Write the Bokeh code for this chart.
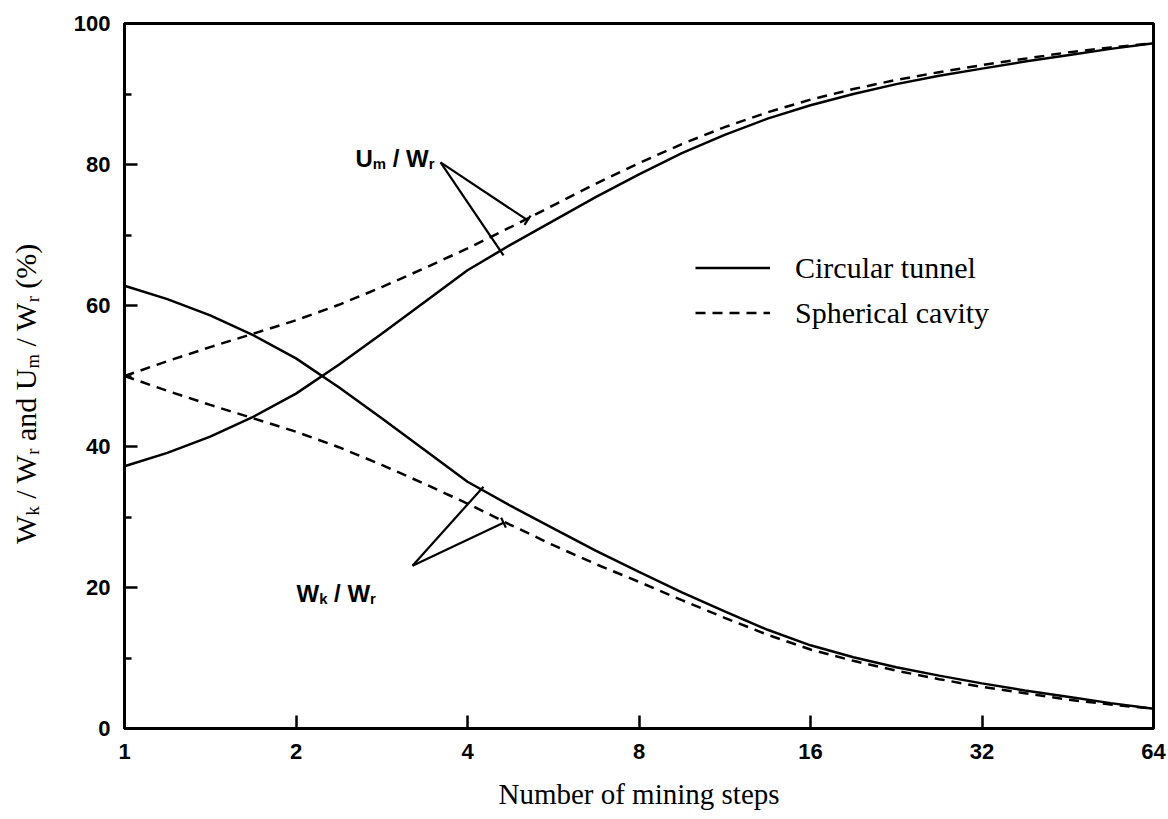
import math

from bokeh.plotting import figure
from bokeh.layouts import row
from bokeh.models import FixedTicker, PrintfTickFormatter, Label, Legend, LegendItem
from bokeh.embed import file_html
from bokeh.resources import INLINE

# Number of mining steps, quarter-octave spacing on the log2 axis
steps = [1, 1.189, 1.414, 1.682, 2, 2.378, 2.828, 3.364, 4, 4.757, 5.657, 6.727, 8,
         9.514, 11.31, 13.45, 16, 19.03, 22.63, 26.91, 32, 38.05, 45.25, 53.82, 64]

# Circular tunnel
tunnel_wk = [62.8, 60.9, 58.6, 55.8, 52.5, 48.4, 44.0, 39.5, 35.0, 31.6, 28.4, 25.2, 22.2,
             19.3, 16.6, 14.0, 11.8, 10.1, 8.7, 7.5, 6.4, 5.4, 4.5, 3.6, 2.8]
tunnel_um = [37.2, 39.1, 41.4, 44.2, 47.5, 51.6, 56.0, 60.5, 65.0, 68.6, 72.0, 75.4, 78.6,
             81.6, 84.2, 86.5, 88.4, 90.0, 91.4, 92.6, 93.6, 94.6, 95.5, 96.4, 97.2]

# Spherical cavity
sphere_wk = [50.0, 47.9, 45.9, 44.0, 42.1, 39.9, 37.4, 34.7, 31.9, 28.9, 26.0, 23.3, 20.8,
             18.2, 15.7, 13.3, 11.2, 9.6, 8.2, 7.0, 5.9, 5.0, 4.1, 3.4, 2.8]
sphere_um = [50.0, 52.1, 54.1, 56.0, 57.9, 60.1, 62.6, 65.3, 68.1, 71.1, 74.2, 77.3, 80.2,
             82.9, 85.3, 87.4, 89.2, 90.7, 92.0, 93.1, 94.1, 95.0, 95.9, 96.6, 97.2]

x_ticks = [1, 2, 4, 8, 16, 32, 64]
y_ticks = [0, 20, 40, 60, 80, 100]
y_minor = [10, 30, 50, 70, 90]

# Leader lines from the curve labels to the curves
um_leader_x0 = [3.587, 3.587]
um_leader_y0 = [80.3, 80.3]
um_leader_x1 = [4.627, 5.098]
um_leader_y1 = [67.1, 72.1]
wk_leader_x0 = [3.203, 3.203]
wk_leader_y0 = [23.1, 23.1]
wk_leader_x1 = [4.267, 4.627]
wk_leader_y1 = [34.3, 29.2]
# short cross-bars closing the leaders that end on the dashed curves
bar_x = [5.098, 4.627]
bar_y = [72.1, 29.2]
bar_angle = [math.radians(56.3), math.radians(115.3)]
um_text_pos = (2.544, 80.85)
wk_text_pos = (2.004, 19.15)

SERIF = "Liberation Serif"
SANS = "Liberation Sans"

# advance widths (per 1000 em) for the run-of-text helper
SERIF_W = {"W": 944, "k": 500, " ": 250, "/": 278, "r": 333, "a": 444, "n": 500,
           "d": 500, "U": 722, "m": 778, "(": 333, "%": 833, ")": 333}
SANS_B_W = {"U": 722, "m": 889, " ": 278, "/": 278, "W": 944, "k": 556, "r": 389}


def text_width(s, table, size):
    return sum(table[c] for c in s) / 1000.0 * size


def add_rich(fig, pieces, x, y, angle, font, style, size, table, dx=0.0, dy=0.0):
    """Place a string with subscripts as consecutive labels along one baseline."""
    adv = 0.0
    ca, sa = math.cos(angle), math.sin(angle)
    for txt, sub in pieces:
        fs = size * 0.62 if sub else size
        drop = size * 0.22 if sub else 0.0
        lead = len(txt) - len(txt.lstrip(" "))
        adv += text_width(" " * lead, table, fs)
        body = txt.strip(" ")
        ox = dx + adv * ca + drop * sa
        oy = dy + adv * sa - drop * ca
        fig.add_layout(Label(x=x, y=y, x_offset=ox, y_offset=oy, text=body, angle=angle,
                             text_font=font, text_font_style=style,
                             text_font_size=f"{fs:.1f}px", text_align="left",
                             text_baseline="alphabetic", text_color="black"))
        adv += text_width(txt.lstrip(" "), table, fs)


p = figure(width=1099, height=819, x_axis_type="log", x_range=(1, 64), y_range=(0, 100),
           output_backend="svg", toolbar_location=None, title=None,
           min_border_left=55, min_border_right=15, min_border_top=23, min_border_bottom=91)
p.grid.visible = False
p.background_fill_color = "white"
p.border_fill_color = "white"
p.outline_line_color = "black"
p.outline_line_width = 3

xa = p.xaxis[0]
xa.ticker = FixedTicker(ticks=x_ticks, minor_ticks=[])
xa.formatter = PrintfTickFormatter(format="%d")
ya = p.yaxis[0]
ya.ticker = FixedTicker(ticks=y_ticks, minor_ticks=y_minor)

for ax in (xa, ya):
    ax.axis_line_width = 3
    ax.axis_line_color = "black"
    ax.major_tick_in = 13
    ax.major_tick_out = 0
    ax.minor_tick_in = 7
    ax.minor_tick_out = 0
    ax.major_tick_line_width = 2.5
    ax.minor_tick_line_width = 2.5
    ax.major_label_text_font = SANS
    ax.major_label_text_font_style = "bold"
    ax.major_label_text_font_size = "22px"
    ax.major_label_text_color = "black"
xa.major_label_standoff = 15
ya.major_label_standoff = 14

xa.axis_label = "Number of mining steps"
xa.axis_label_text_font = SERIF
xa.axis_label_text_font_style = "normal"
xa.axis_label_text_font_size = "29px"
xa.axis_label_text_color = "black"
xa.axis_label_standoff = 16

line_w = 2.5
dash = "10 7"
r_t_wk = p.line(steps, tunnel_wk, line_color="black", line_width=line_w)
r_t_um = p.line(steps, tunnel_um, line_color="black", line_width=line_w)
r_s_wk = p.line(steps, sphere_wk, line_color="black", line_width=line_w, line_dash=dash)
r_s_um = p.line(steps, sphere_um, line_color="black", line_width=line_w, line_dash=dash)

p.segment(um_leader_x0, um_leader_y0, um_leader_x1, um_leader_y1, line_color="black", line_width=2.2)
p.segment(wk_leader_x0, wk_leader_y0, wk_leader_x1, wk_leader_y1, line_color="black", line_width=2.2)
p.scatter(bar_x, bar_y, marker="dash", size=11, angle=bar_angle, line_color="black", line_width=2.2)

legend = Legend(items=[LegendItem(label="Circular tunnel", renderers=[r_t_wk]),
                       LegendItem(label="Spherical cavity", renderers=[r_s_wk])],
                location=(571, 398), border_line_color=None, background_fill_alpha=0,
                glyph_width=75, glyph_height=35, label_height=35, spacing=10,
                padding=0, margin=0, label_standoff=25,
                label_text_font=SERIF, label_text_font_size="30px", label_text_color="black")
p.add_layout(legend)

# curve labels
add_rich(p, [("U", 0), ("m", 1), (" / W", 0), ("r", 1)], um_text_pos[0], um_text_pos[1],
         0.0, SANS, "bold", 24, SANS_B_W)
add_rich(p, [("W", 0), ("k", 1), (" / W", 0), ("r", 1)], wk_text_pos[0], wk_text_pos[1],
         0.0, SANS, "bold", 24, SANS_B_W)

# strip on the left carrying the vertical axis title (pixel-unit ranges, no axes)
title_strip = figure(width=69, height=819, x_range=(0, 69), y_range=(0, 819),
                     x_axis_location=None, y_axis_location=None,
                     output_backend="svg", toolbar_location=None, title=None, min_border=0)
title_strip.grid.visible = False
title_strip.outline_line_color = None
title_strip.background_fill_color = "white"
title_strip.border_fill_color = "white"
add_rich(title_strip,
         [("W", 0), ("k", 1), (" / W", 0), ("r", 1), (" and U", 0), ("m", 1),
          (" / W", 0), ("r", 1), (" (%)", 0)],
         37, 276, math.pi / 2, SERIF, "normal", 30, SERIF_W, dx=-12, dy=-53)

layout = row(title_strip, p, spacing=0)
open("out.html", "w").write(file_html(layout, INLINE))
